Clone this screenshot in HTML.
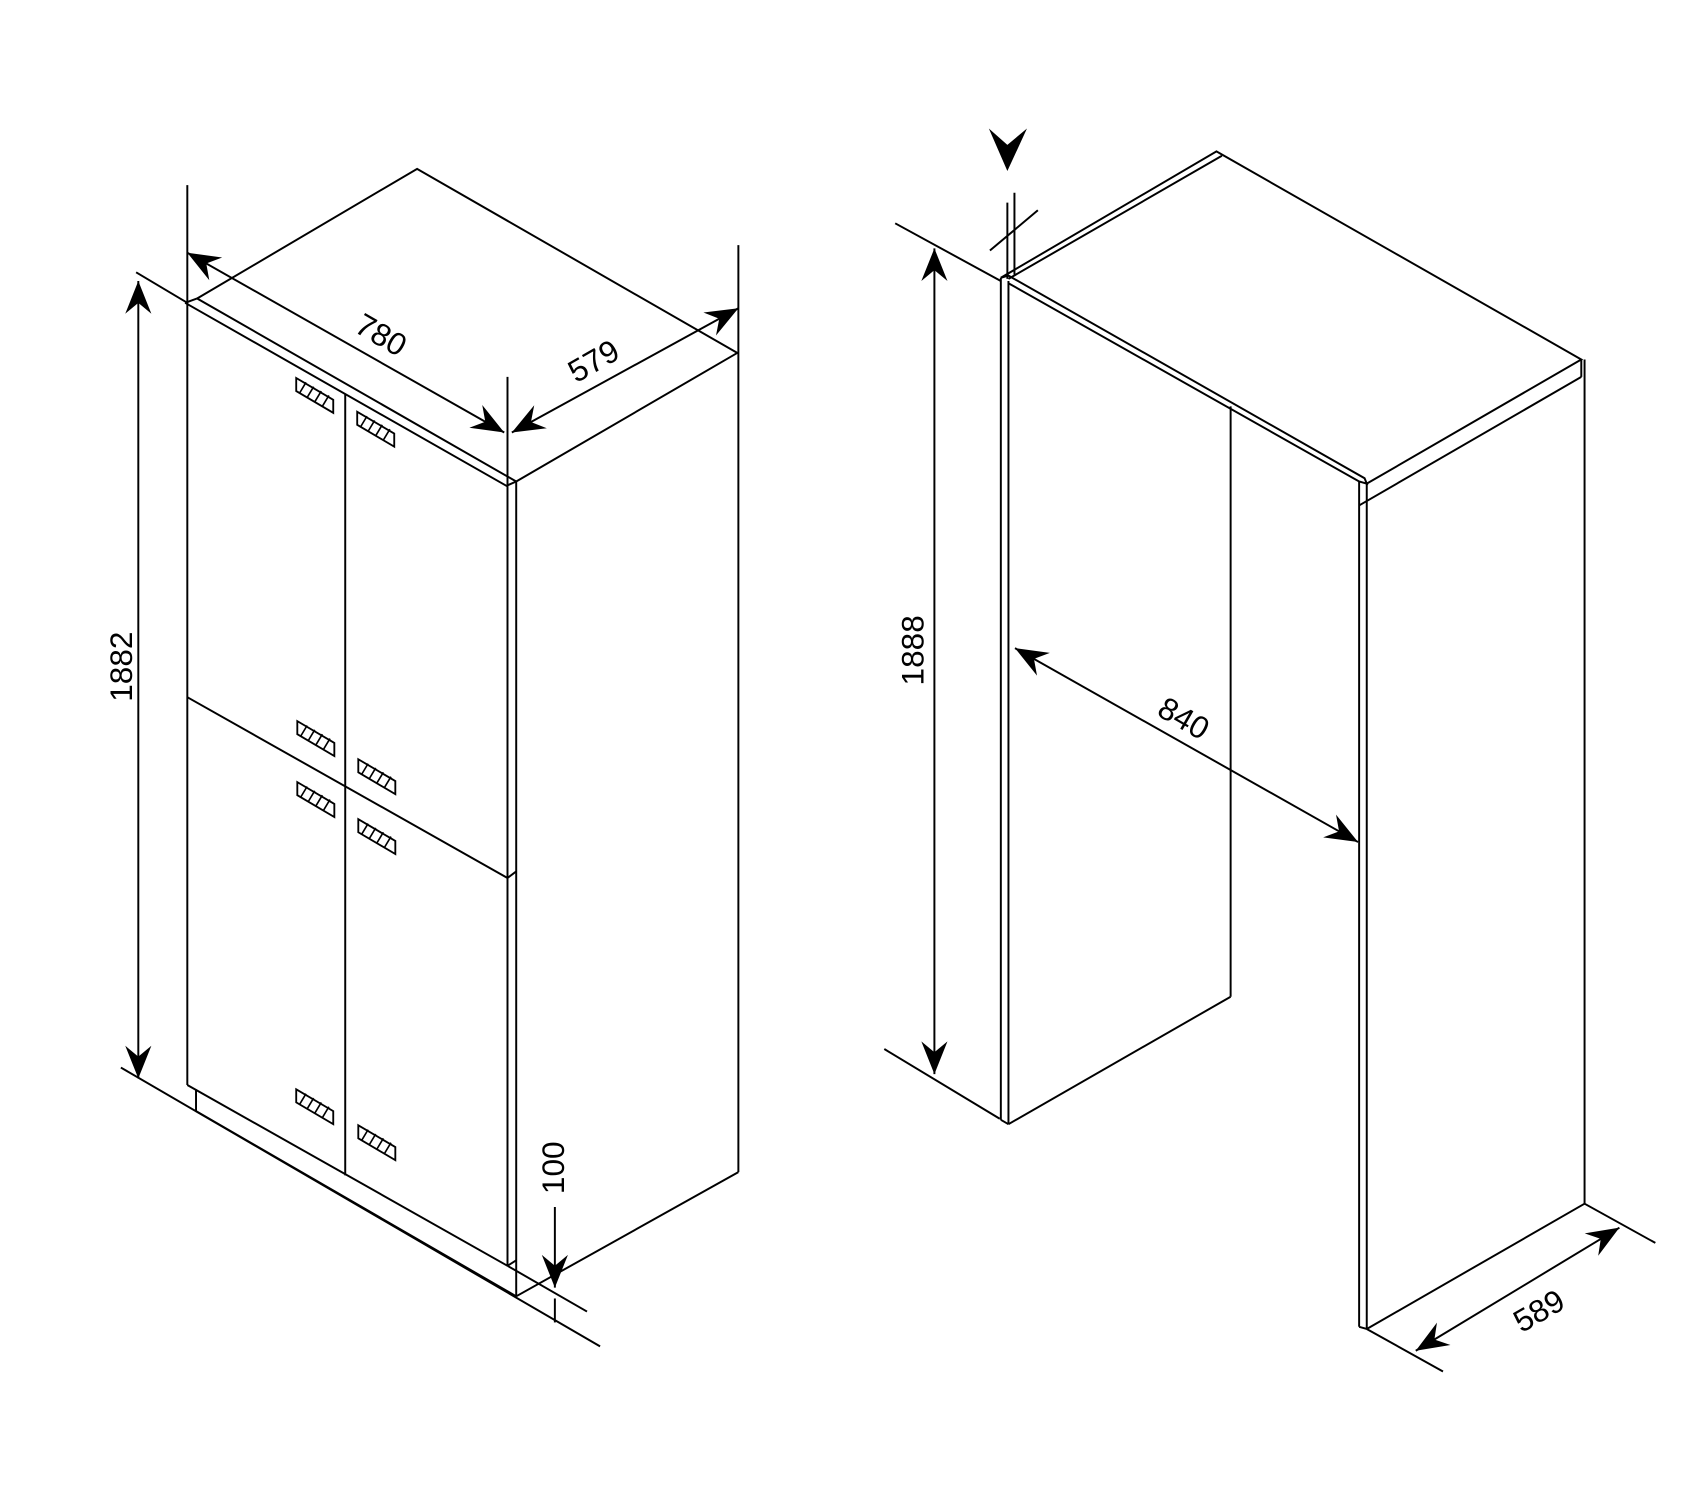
<!DOCTYPE html>
<html><head><meta charset="utf-8"><style>html,body{margin:0;padding:0;background:#fff}svg{display:block}</style></head>
<body>
<svg width="1700" height="1500" viewBox="0 0 1561 1377" preserveAspectRatio="none" xmlns="http://www.w3.org/2000/svg">
<defs>
<marker id="a" viewBox="-32 -13 34 26" markerWidth="34" markerHeight="26" refX="0" refY="0" orient="auto-start-reverse" markerUnits="userSpaceOnUse">
<path d="M0,0 L-30,-12 L-20,0 L-30,12 Z" fill="#000"/>
</marker>
<g id="h">
<path d="M0,0 L34,20 L34,32 L0,12 Z" fill="#fff" stroke="#000" stroke-width="1.7"/>
<path d="M3,14 L9,4 M10,18 L16,8 M17,22 L23,12 M24,26 L30,16" stroke="#000" stroke-width="1.5"/>
</g>
</defs>
<g fill="none" stroke="#000" stroke-width="1.8" stroke-linejoin="miter">
<!-- LEFT UNIT -->
<path d="M181,274 L383,155 L677,324 L474,442"/>
<path d="M170,278 L465,446 L474,442 M170,278 L181,274 L474,442"/>
<line x1="172" y1="170" x2="172" y2="996"/>
<line x1="466" y1="346" x2="466" y2="1162"/>
<line x1="474" y1="442" x2="474" y2="1190"/>
<line x1="678" y1="225" x2="678" y2="1076"/>
<line x1="678" y1="1076" x2="474" y2="1190"/>
<line x1="317" y1="362" x2="317" y2="1079"/>
<line x1="172" y1="640" x2="466" y2="806"/>
<line x1="466" y1="806" x2="474" y2="800"/>
<line x1="172" y1="996" x2="466" y2="1162"/>
<line x1="466" y1="1162" x2="474" y2="1157"/>
<line x1="180" y1="1000" x2="180" y2="1020"/>
<line x1="180" y1="1020" x2="474" y2="1190"/>
<line x1="111" y1="980" x2="551" y2="1236"/>
<line x1="466" y1="1162" x2="539" y2="1204"/>
<line x1="125" y1="250" x2="172" y2="278"/>
<line x1="509.5" y1="1192" x2="509.5" y2="1214"/>
<!-- dims left -->
<line x1="127" y1="258" x2="127" y2="990" marker-start="url(#a)" marker-end="url(#a)"/>
<line x1="172" y1="232" x2="463" y2="397" marker-start="url(#a)" marker-end="url(#a)"/>
<line x1="470" y1="397" x2="678" y2="283" marker-start="url(#a)" marker-end="url(#a)"/>
<line x1="509.5" y1="1108" x2="509.5" y2="1182" marker-end="url(#a)"/>
<!-- RIGHT UNIT -->
<path d="M926,256 L1122,143 M919,255 L1117,139 L1124,143 L1452,330 L1255,444"/>
<line x1="1452" y1="330" x2="1452" y2="346"/>
<line x1="1452" y1="346" x2="1248" y2="464"/>
<path d="M919,255 L926,253 L1253,439 L1255,444 L1248,442 L926,260"/>
<line x1="919" y1="255" x2="919" y2="1028"/>
<line x1="926" y1="258" x2="926" y2="1032"/>
<line x1="919" y1="1028" x2="926" y2="1032"/>
<line x1="926" y1="1032" x2="1130" y2="915"/>
<line x1="1130" y1="373" x2="1130" y2="915"/>
<line x1="1248" y1="442" x2="1248" y2="1218"/>
<line x1="1255" y1="444" x2="1255" y2="1220"/>
<line x1="1248" y1="1218" x2="1255" y2="1220"/>
<line x1="1455" y1="330" x2="1455" y2="1105"/>
<line x1="1255" y1="1220" x2="1455" y2="1105"/>
<!-- dims right -->
<line x1="822" y1="205" x2="919" y2="258"/>
<line x1="812" y1="963" x2="918" y2="1027"/>
<line x1="858" y1="228" x2="858" y2="986" marker-start="url(#a)" marker-end="url(#a)"/>
<line x1="932" y1="595" x2="1247" y2="773" marker-start="url(#a)" marker-end="url(#a)"/>
<line x1="1455" y1="1105" x2="1520" y2="1141"/>
<line x1="1255" y1="1220" x2="1325" y2="1259"/>
<line x1="1300" y1="1240" x2="1487" y2="1127" marker-start="url(#a)" marker-end="url(#a)"/>
<line x1="925" y1="186" x2="925" y2="256"/>
<line x1="931.5" y1="177" x2="931.5" y2="252"/>
<line x1="909" y1="230" x2="953" y2="193"/>
</g>
<path d="M908,118 L925,133 L943,118 L925,157 Z" fill="#000"/>
<use href="#h" x="272" y="347"/>
<use href="#h" x="328" y="378"/>
<use href="#h" x="273" y="662"/>
<use href="#h" x="329" y="697"/>
<use href="#h" x="273" y="718"/>
<use href="#h" x="329" y="752"/>
<use href="#h" x="272" y="1000"/>
<use href="#h" x="329" y="1033"/>
<g font-family="Liberation Sans, sans-serif" font-size="29" fill="#000" text-anchor="middle">
<text transform="translate(345,316) rotate(30)">780</text>
<text transform="translate(550,340) rotate(-30)">579</text>
<text transform="translate(121,612) rotate(-90)">1882</text>
<text transform="translate(518,1072) rotate(-90)">100</text>
<text transform="translate(848,597) rotate(-90)">1888</text>
<text transform="translate(1082,668) rotate(30)">840</text>
<text transform="translate(1418,1212) rotate(-30)">589</text>
</g>
</svg>
</body></html>
